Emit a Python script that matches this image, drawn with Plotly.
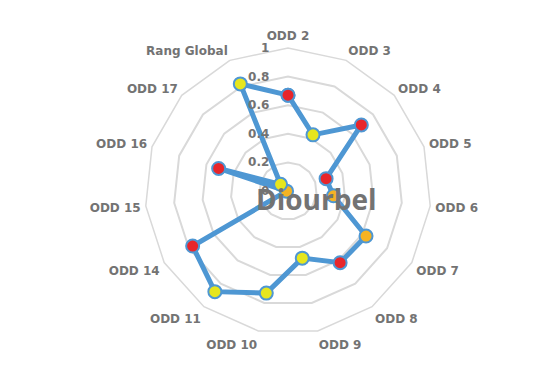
import plotly.graph_objects as go

categories = ["ODD 2", "ODD 3", "ODD 4", "ODD 5", "ODD 6", "ODD 7", "ODD 8", "ODD 9",
              "ODD 10", "ODD 11", "ODD 14", "ODD 15", "ODD 16", "ODD 17", "Rang Global"]
values = [0.67, 0.43, 0.69, 0.28, 0.32, 0.63, 0.62, 0.48,
          0.73, 0.87, 0.77, 0.01, 0.51, 0.07, 0.82]
# marker colour per point (as in the source chart)
point_colors = ["#E8262B", "#E6E61E", "#E8262B", "#E8262B", "#F5B323", "#F5B323", "#E8262B", "#E6E61E",
                "#E6E61E", "#E6E61E", "#E8262B", "#F5B323", "#E8262B", "#E6E61E", "#E6E61E"]
tick_vals = [0, 0.2, 0.4, 0.6, 0.8, 1]
tick_text = ["0", "0.2", "0.4", "0.6", "0.8", "1"]
title = "Diourbel"

line_blue = "#4E97D3"
grey_text = "#737373"

fig = go.Figure()

fig.add_trace(
    go.Scatterpolar(
        r=values + values[:1],
        theta=categories + categories[:1],
        mode="lines+markers",
        line=dict(color=line_blue, width=5),
        marker=dict(size=13, color=point_colors + point_colors[:1],
                    line=dict(color=line_blue, width=2)),
        showlegend=False,
    )
)

# page has an 8px body margin, so layout is laid out relative to that
L, R, T, B = 137, 130, 40, 54
W, H = 553, 380
pw, ph = W - L - R, H - T - B

fig.add_annotation(
    text=title, xref="paper", yref="paper",
    x=(308 - L) / pw, y=(H - B - 191) / ph,
    showarrow=False, xanchor="center", yanchor="middle",
    font=dict(family="Open Sans", size=28, color=grey_text, weight="bold"),
)

label_font = dict(size=12, color=grey_text, family="DejaVu Sans", weight="bold")

fig.update_layout(
    width=W, height=H,
    margin=dict(l=L, r=R, t=T, b=B),
    paper_bgcolor="white",
    font=dict(family="DejaVu Sans", color=grey_text, weight="bold"),
    polar=dict(
        bgcolor="rgba(0,0,0,0)",
        gridshape="linear",
        angularaxis=dict(
            rotation=90, direction="clockwise",
            showgrid=False, showline=True,
            linecolor="#d9d9d9", linewidth=1.5,
            ticks="outside", ticklen=2, tickcolor="rgba(0,0,0,0)",
            tickfont=label_font,
        ),
        radialaxis=dict(
            range=[0, 1], tickvals=tick_vals, ticktext=tick_text,
            angle=90, tickangle=90, side="counterclockwise",
            showline=False, ticks="outside", ticklen=14, tickcolor="rgba(0,0,0,0)",
            gridcolor="#d9d9d9", gridwidth=1.5,
            tickfont=label_font,
        ),
    ),
)

fig.write_html("out.html")
